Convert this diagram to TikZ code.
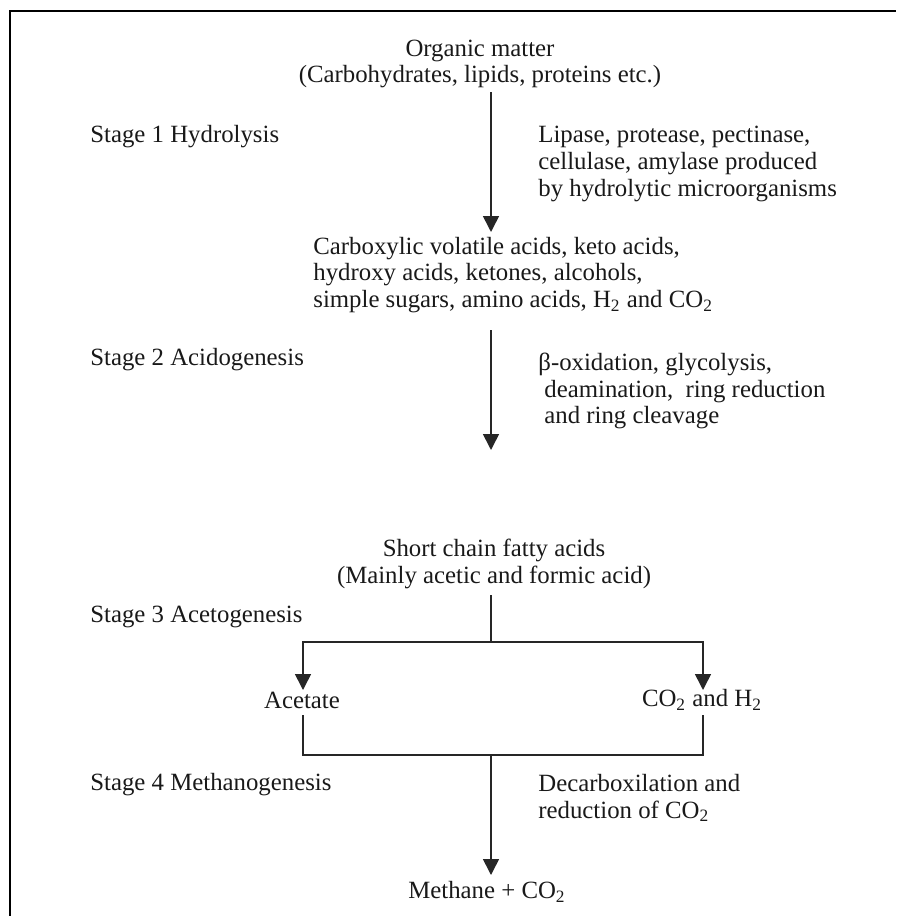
\documentclass[tikz,border=0pt]{standalone}
\usepackage{fontspec}
\setmainfont{Liberation Serif}
\usetikzlibrary{arrows.meta}
\begin{document}
\begin{tikzpicture}[x=0.5pt,y=-0.5pt,
  every node/.style={font=\fontsize{12.4}{13.4}\selectfont, inner sep=0pt, text=black!90},
  txt/.style={anchor=west, align=left},
  ctr/.style={anchor=center, align=center},
  conn/.style={line width=0.8pt, draw=black!85},
  arr/.style={conn, -{Triangle[width=8pt,length=8pt]}},
  frame/.style={line width=1.2pt}]
\useasboundingbox (0,0) rectangle (896,916);
\draw[frame] (10,916) -- (10,11) -- (896,11);

% text nodes
\node[ctr] (org) at (480,64) {Organic matter\\(Carbohydrates, lipids, proteins etc.)};
\node[txt] (s1) at (90,137) {Stage 1 Hydrolysis};
\node[txt] (enz) at (538,164) {Lipase, protease, pectinase,\\cellulase, amylase produced\\by hydrolytic microorganisms};
\node[txt] (carb) at (313,275) {Carboxylic volatile acids, keto acids,\\hydroxy acids, ketones, alcohols,\\simple sugars, amino acids, H\textsubscript{2} and CO\textsubscript{2}};
\node[txt] (s2) at (90,360) {Stage 2 Acidogenesis};
\node[txt] (ox) at (538,391) {β-oxidation, glycolysis,\\\hspace{3pt}deamination,\ \ ring reduction\\\hspace{3pt}and ring cleavage};
\node[ctr] (scfa) at (494,564) {Short chain fatty acids\\(Mainly acetic and formic acid)};
\node[txt] (s3) at (90,617) {Stage 3 Acetogenesis};
\node[ctr] (acet) at (302,700) {Acetate};
\node[ctr] (coh) at (702,700) {CO\textsubscript{2} and H\textsubscript{2}};
\node[txt] (s4) at (90,785) {Stage 4 Methanogenesis};
\node[txt] (dec) at (538,798) {Decarboxilation and\\reduction of CO\textsubscript{2}};
\node[ctr] (meth) at (487,892) {Methane + CO\textsubscript{2}};

% connector coordinates
\coordinate (a1s) at (491,92);
\coordinate (a1e) at (491,232);
\coordinate (a2s) at (491,330);
\coordinate (a2e) at (491,450);
\coordinate (a3s) at (491,595);
\coordinate (split) at (491,642);
\coordinate (sl) at (303,642);
\coordinate (sr) at (703,642);
\coordinate (al) at (303,690);
\coordinate (ar) at (703,690);
\coordinate (bl) at (303,715);
\coordinate (br) at (703,715);
\coordinate (jl) at (303,755);
\coordinate (jr) at (703,755);
\coordinate (join) at (491,755);
\coordinate (a4e) at (491,875);

\draw[arr] (a1s) -- (a1e);
\draw[arr] (a2s) -- (a2e);
\draw[conn] (a3s) -- (split);
\draw[arr] (split) -- (sl) -- (al);
\draw[arr] (split) -- (sr) -- (ar);
\draw[conn] (bl) -- (jl) -- (jr) -- (br);
\draw[arr] (join) -- (a4e);
\end{tikzpicture}
\end{document}
